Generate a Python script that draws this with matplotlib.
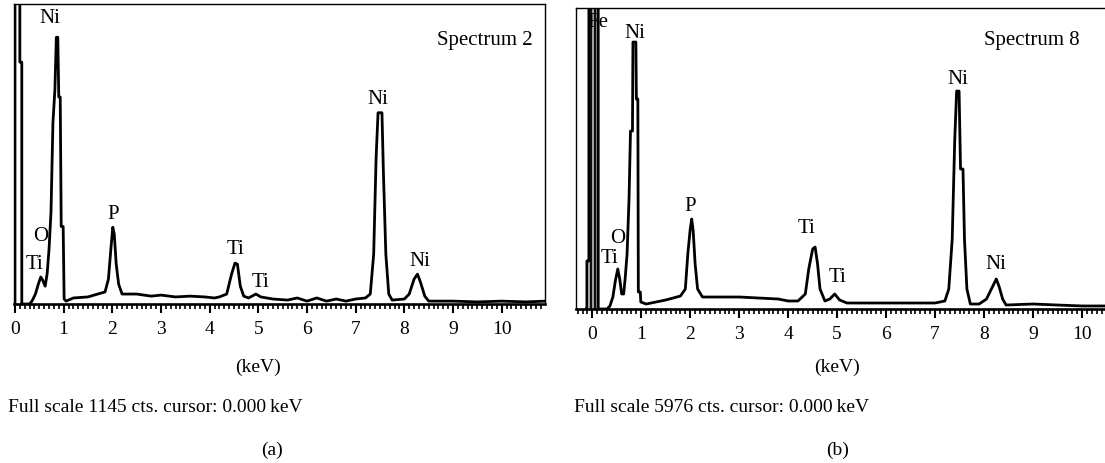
import matplotlib
matplotlib.use("Agg")
import matplotlib.pyplot as plt
from matplotlib.ticker import MultipleLocator
from matplotlib import transforms

plt.rcParams['font.family'] = ['Liberation Serif', 'DejaVu Serif']

# ---------------- data ----------------
full_scale_a = 1145
full_scale_b = 5976

energy_a = [0.00, 0.00, 0.10, 0.10, 0.14, 0.14, 0.30, 0.35, 0.42, 0.48,
            0.53, 0.57, 0.62, 0.66, 0.70, 0.74, 0.78, 0.82, 0.85, 0.88,
            0.90, 0.93, 0.95, 0.99, 1.01, 1.05, 1.20, 1.50, 1.70, 1.85,
            1.92, 1.97, 2.01, 2.04, 2.08, 2.13, 2.20, 2.50, 2.80, 3.00,
            3.30, 3.60, 3.90, 4.10, 4.20, 4.35, 4.45, 4.52, 4.57, 4.63,
            4.70, 4.80, 4.95, 5.05, 5.30, 5.60, 5.80, 6.00, 6.20, 6.40,
            6.60, 6.80, 7.00, 7.20, 7.30, 7.37, 7.42, 7.46, 7.54, 7.57,
            7.62, 7.68, 7.75, 8.00, 8.10, 8.20, 8.27, 8.33, 8.42, 8.50,
            9.00, 9.50, 10.00, 10.50, 10.90]
counts_a = [0, 1300, 1300, 923, 923, 0, 0, 11, 38, 76,
            103, 91, 68, 114, 209, 350, 692, 817, 1018, 1018,
            790, 790, 296, 296, 19, 11, 23, 27, 38, 46,
            95, 209, 293, 266, 152, 76, 38, 38, 30, 34,
            27, 30, 27, 23, 27, 38, 114, 156, 152, 68,
            30, 23, 38, 27, 19, 15, 23, 11, 23, 11,
            19, 11, 19, 23, 38, 190, 559, 730, 730, 502,
            190, 38, 15, 19, 38, 95, 114, 84, 30, 11,
            11, 8, 11, 8, 11]

energy_b = [-0.12, -0.11, -0.11, -0.07, -0.07, 0.12, 0.12, 0.30, 0.36, 0.42,
            0.47, 0.52, 0.56, 0.60, 0.64, 0.67, 0.71, 0.75, 0.78, 0.82,
            0.83, 0.89, 0.90, 0.93, 0.94, 0.98, 0.99, 1.10, 1.30, 1.50,
            1.65, 1.80, 1.90, 1.95, 2.00, 2.03, 2.06, 2.10, 2.15, 2.25,
            2.60, 3.00, 3.40, 3.80, 4.00, 4.20, 4.35, 4.42, 4.50, 4.55,
            4.60, 4.65, 4.75, 4.85, 4.95, 5.05, 5.20, 6.00, 6.50, 7.00,
            7.20, 7.28, 7.35, 7.40, 7.44, 7.49, 7.52, 7.57, 7.60, 7.65,
            7.72, 7.90, 8.05, 8.15, 8.25, 8.31, 8.38, 8.45, 9.00, 9.50,
            10.00, 10.50]
counts_b = [0, 0, 953, 953, 6400, 6400, 0, 0, 60, 238,
            556, 794, 596, 298, 298, 596, 1092, 2184, 3533, 3533,
            5300, 5300, 4169, 4169, 337, 337, 139, 99, 139, 179,
            218, 258, 397, 1092, 1588, 1787, 1548, 893, 397, 238,
            238, 238, 218, 198, 159, 159, 298, 794, 1191, 1231,
            893, 397, 159, 198, 298, 179, 119, 119, 119, 119,
            159, 397, 1390, 3315, 4327, 4327, 2779, 2779, 1390, 397,
            99, 99, 198, 397, 596, 437, 198, 79, 99, 79,
            60, 60]

# zero-energy (Fe) strobe peak in spectrum 8: filled band and inner strokes
zero_band_b = (-0.07, 0.12)
zero_strokes_b = [-0.02, 0.06]

peak_labels_a = [("Ni", 0.72, 1094), ("O", 0.53, 262), ("Ti", 0.41, 156),
                 ("P", 2.01, 346), ("Ti", 4.54, 213), ("Ti", 5.05, 87),
                 ("Ni", 7.46, 783), ("Ni", 8.32, 167)]
peak_labels_b = [("Fe", 0.12, 5717), ("Ni", 0.87, 5498), ("O", 0.51, 1429),
                 ("Ti", 0.36, 1032), ("P", 2.00, 2045), ("Ti", 4.38, 1628),
                 ("Ti", 5.00, 655), ("Ni", 7.47, 4585), ("Ni", 8.24, 913)]

tick_values = list(range(0, 11))
tick_labels = [str(v) for v in tick_values]

# ---------------- figure ----------------
W, H = 1105, 464
fig = plt.figure(figsize=(W / 100, H / 100), dpi=100)


def px_rect(x0, x1, ytop, ybot):
    return [x0 / W, 1 - ybot / H, (x1 - x0) / W, (ybot - ytop) / H]


axA = fig.add_axes(px_rect(14, 545, 5, 305))
axB = fig.add_axes(px_rect(576, 1105, 9, 310))

LW = 2.0
FS_TICK = 14
FS_LAB = 15


def style(ax, xmin, xmax, full):
    ax.set_xlim(xmin, xmax)
    ax.set_ylim(0, full)
    ax.set_yticks([])
    ax.set_xticks(tick_values)
    ax.set_xticklabels(tick_labels, fontsize=FS_TICK)
    ax.xaxis.set_minor_locator(MultipleLocator(0.1))
    ax.tick_params(axis='x', which='major', direction='out', length=6.5,
                   width=1.5, pad=5)
    ax.tick_params(axis='x', which='minor', direction='out', length=3.5,
                   width=1.2)
    for s in ax.spines.values():
        s.set_linewidth(1.0)
    ax.spines['bottom'].set_linewidth(1.9)


style(axA, -0.02, 10.89, full_scale_a)
style(axB, -0.333, 10.47, full_scale_b)
axB.spines['right'].set_visible(False)

axA.plot(energy_a, counts_a, color='black', lw=LW, solid_joinstyle='round')

axB.fill_between(list(zero_band_b), 0, full_scale_b * 1.1, color='#a0a0a0',
                 zorder=2)
axB.vlines(zero_strokes_b, 0, full_scale_b * 1.1, color='black', lw=1.3,
           zorder=3)
axB.plot(energy_b, counts_b, color='black', lw=LW, zorder=3,
         solid_joinstyle='round')

for ax, labels in ((axA, peak_labels_a), (axB, peak_labels_b)):
    for name, xv, yv in labels:
        ax.text(xv, yv, name, fontsize=FS_LAB, ha='center', va='center',
                zorder=4)

axA.text(485 / W, 1 - 41 / H, "Spectrum 2", transform=fig.transFigure,
         fontsize=FS_LAB, ha='center', va='center')
axB.text(1032 / W, 1 - 40 / H, "Spectrum 8", transform=fig.transFigure,
         fontsize=FS_LAB, ha='center', va='center')

for ax, center_keV, fs_text, left_px in (
        (axA, 5, "Full scale 1145 cts. cursor: 0.000\u2009keV", 8),
        (axB, 5, "Full scale 5976 cts. cursor: 0.000\u2009keV", 574)):
    tr = transforms.blended_transform_factory(ax.transData, fig.transFigure)
    ax.text(center_keV, 1 - 367 / H, "(keV)", transform=tr, fontsize=FS_TICK,
            ha='center', va='center')
    fig.text(left_px / W, 1 - 408 / H, fs_text, fontsize=FS_TICK, ha='left',
             va='center')

fig.text(272 / W, 1 - 450 / H, "(a)", fontsize=FS_TICK, ha='center', va='center')
fig.text(838 / W, 1 - 450 / H, "(b)", fontsize=FS_TICK, ha='center', va='center')

fig.savefig("out.png", dpi=100)
